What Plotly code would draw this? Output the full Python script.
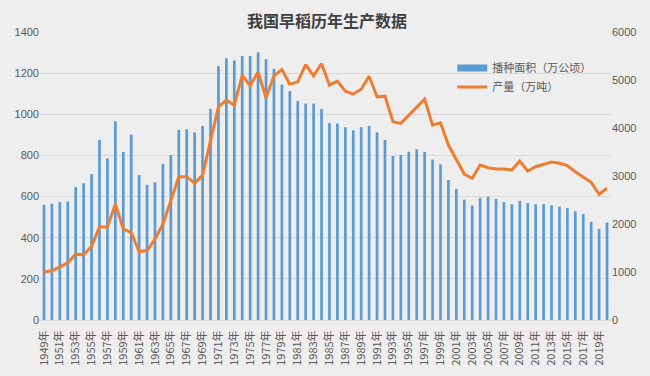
import plotly.graph_objects as go

years = [str(y) + "年" for y in range(1949, 2021)]

area = [560, 565, 573, 576, 647, 665, 709, 875, 786, 966,
        817, 901, 705, 657, 670, 759, 802, 924, 927, 912,
        943, 1026, 1234, 1272, 1262, 1283, 1283, 1302, 1268, 1221,
        1144, 1113, 1064, 1052, 1052, 1026, 958, 955, 937, 922,
        937, 943, 912, 875, 797, 802, 818, 830, 817, 780,
        757, 681, 637, 585, 556, 594, 600, 589, 573, 563,
        579, 569, 563, 563, 558, 551, 544, 529, 515, 477,
        443, 474]

output = [1000, 1025, 1108, 1191, 1372, 1358, 1531, 1940, 1940, 2412,
          1898, 1822, 1427, 1447, 1684, 2002, 2487, 2986, 2986, 2848,
          3021, 3748, 4441, 4580, 4476, 5100, 4878, 5169, 4628, 5086,
          5218, 4913, 4961, 5322, 5086, 5343, 4892, 4975, 4767, 4705,
          4809, 5079, 4649, 4663, 4129, 4096, 4268, 4441, 4601, 4060,
          4108, 3645, 3350, 3041, 2952, 3229, 3173, 3146, 3146, 3125,
          3312, 3104, 3194, 3243, 3291, 3264, 3215, 3090, 2986, 2869,
          2620, 2744]

tick_labels = years[::2]

font_cjk = "Noto Sans CJK SC"
grey = "#595959"
blue = "#5B9BD5"
orange = "#ED7D31"

fig = go.Figure()
fig.add_trace(go.Bar(
    x=years, y=area, name="播种面积（万公顷）",
    marker=dict(color=blue, line=dict(width=0)),
    yaxis="y", showlegend=False,
))
fig.add_trace(go.Scatter(
    x=years, y=output, name="产量（万吨）", mode="lines",
    line=dict(color=orange, width=3),
    yaxis="y2", showlegend=False,
))
# legend entries (wide swatches like the original)
fig.add_trace(go.Scatter(
    x=[None], y=[None], name="播种面积（万公顷）", mode="lines",
    line=dict(color=blue, width=7), yaxis="y",
))
fig.add_trace(go.Scatter(
    x=[None], y=[None], name="产量（万吨）", mode="lines",
    line=dict(color=orange, width=3), yaxis="y2",
))

fig.update_layout(
    width=650, height=376,
    margin=dict(l=40, r=39, t=32, b=56),
    paper_bgcolor="#EEEEEE",
    plot_bgcolor="#EEEEEE",
    bargap=0.66,
    title=dict(text="<b>我国早稻历年生产数据</b>", x=0.503, xanchor="center",
               y=0.942, yanchor="middle",
               font=dict(family=font_cjk, size=16, color="#404040")),
    font=dict(family=font_cjk, size=11, color=grey),
    xaxis=dict(
        type="category", tickmode="array", tickvals=tick_labels, ticktext=tick_labels,
        tickangle=-90, showgrid=False, showline=True, linecolor="#D9D9D9",
        ticks="", automargin=False, ticklabelstandoff=5,
        tickfont=dict(family=font_cjk, size=11, color=grey),
        categoryorder="array", categoryarray=years,
    ),
    yaxis=dict(
        range=[0, 1400], dtick=200, showgrid=True, gridcolor="#D9D9D9", gridwidth=1,
        zeroline=False, ticks="", automargin=False,
        tickfont=dict(family="Liberation Sans", size=11, color=grey),
    ),
    yaxis2=dict(
        range=[0, 6000], dtick=1000, overlaying="y", side="right", showgrid=False,
        zeroline=False, ticks="", automargin=False,
        tickfont=dict(family="Liberation Sans", size=11, color=grey),
    ),
    legend=dict(x=0.722, y=0.925, xanchor="left", yanchor="top",
                bgcolor="rgba(0,0,0,0)", font=dict(family=font_cjk, size=11, color=grey),
                tracegroupgap=0, itemwidth=30),
    showlegend=True,
)

fig.write_html("out.html", config={"displayModeBar": False},
               post_script="document.body.style.margin='0';document.body.style.background='#EEEEEE';")
